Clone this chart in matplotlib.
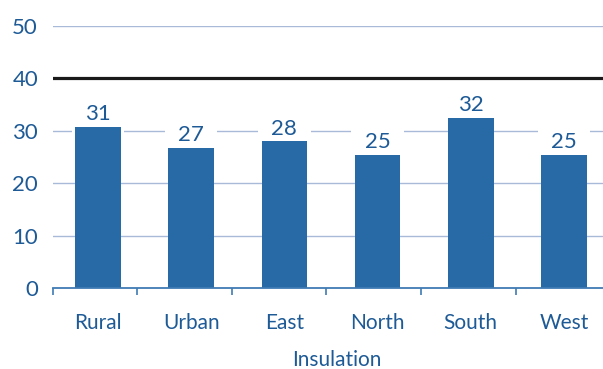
"""
Bar chart of insulation scores by area, with a reference line at 40.
"""

import matplotlib

matplotlib.use("Agg")
import matplotlib.pyplot as plt
from matplotlib.ticker import FixedLocator

categories = ["Rural", "Urban", "East", "North", "South", "West"]
values = [30.7, 26.7, 28.0, 25.4, 32.4, 25.4]
y_ticks = [0, 10, 20, 30, 40, 50]
reference = 40
x_title = "Insulation"

TEXT = "#1d5a96"
BAR = "#276aa5"
GRID = "#a9bad8"
SPINE = "#3f7bb4"

plt.rcParams["font.family"] = ["Lato", "DejaVu Sans"]

fig = plt.figure(figsize=(6.03, 3.69), dpi=100)
ax = fig.add_axes([0.0884, 0.2195, 0.9116, 0.710])

x = list(range(len(categories)))
ax.bar(x, values, width=0.49, color=BAR, zorder=2)

for xi, v in zip(x, values):
    ax.annotate(
        f"{v:.0f}",
        (xi, v),
        xytext=(0, 2),
        textcoords="offset points",
        ha="center",
        va="bottom",
        fontsize=16,
        color=TEXT,
        zorder=1,
        bbox=dict(boxstyle="square,pad=0.6", facecolor="white", edgecolor="none"),
    )

# light grid, heavy black line for the reference level
for t in y_ticks[1:]:
    if t == reference:
        continue
    ax.axhline(t, color=GRID, linewidth=1.0, zorder=0.5)
ax.axhline(reference, color="#1a1a1a", linewidth=2.3, zorder=3)

ax.set_xlim(-0.48, 5.42)
ax.set_ylim(0, 50)
ax.set_yticks(y_ticks)
ax.set_xticks(x)
ax.set_xticklabels(categories)
ax.xaxis.set_minor_locator(FixedLocator([-0.48, 0.415, 1.435, 2.45, 3.465, 4.485]))

ax.tick_params(axis="x", which="major", length=0, pad=18, labelsize=15, labelcolor=TEXT)
ax.tick_params(axis="x", which="minor", length=5, width=1.2, color=SPINE, direction="out")
ax.tick_params(axis="y", length=0, pad=11, labelsize=16, labelcolor=TEXT)

for side in ("top", "right", "left"):
    ax.spines[side].set_visible(False)
ax.spines["bottom"].set_color(SPINE)
ax.spines["bottom"].set_linewidth(1.3)
ax.spines["bottom"].set_zorder(4)

ax.set_xlabel(x_title, fontsize=15, color=TEXT)
ax.xaxis.set_label_coords(0.515, -0.235)

fig.savefig("out.png", dpi=100)
